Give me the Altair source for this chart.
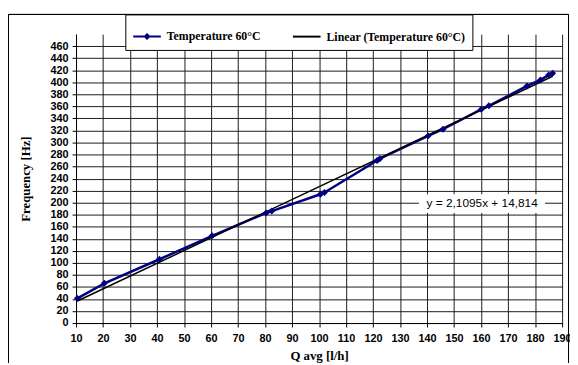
import altair as alt
import pandas as pd

# Data
q_avg = [10.5, 20.5, 40.9, 60.4, 80.4, 82.5, 100.5, 102.0, 121.5, 122.5,
         140.4, 145.9, 160.0, 162.9, 177.0, 182.0, 185.0, 186.5]
freq = [41, 66, 106, 145, 183, 186, 214, 217, 270, 273,
        311, 322, 355, 361, 394, 404, 412, 415]
series_names = ["Temperature 60°C", "Linear (Temperature 60°C)"]
x_ticks = list(range(10, 191, 10))
y_ticks = list(range(0, 461, 20))
equation = "y = 2,1095x + 14,814"

df = pd.DataFrame({"q": q_avg, "f": freq})
legend_df = pd.DataFrame({"series": series_names, "q": [q_avg[0]] * 2, "f": [freq[0]] * 2})
label_df = pd.DataFrame({"q": [160.4], "f": [200], "q0": [137.0], "q1": [183.7],
                         "f0": [183.0], "f1": [214.0], "text": [equation]})

NAVY = "#000080"
W, H = 493, 293

xs = alt.Scale(domain=[10, 190], nice=False, zero=False)
ys = alt.Scale(domain=[0, 480], nice=False)

x_axis = alt.Axis(values=x_ticks, title="Q avg [l/h]", labelFont="Liberation Sans",
                  labelFontWeight="bold", labelFontSize=11, labelColor="black",
                  titleFont="Liberation Serif", titleFontSize=13, titleFontWeight="bold",
                  titleColor="black", tickSize=4, tickColor="black", domainColor="black",
                  labelPadding=6, titlePadding=6, gridColor="#1a1a1a", gridOpacity=1,
                  labelFlush=False, labelOverlap=False)
y_axis = alt.Axis(values=y_ticks, title="Frequency [Hz]", labelFont="Liberation Sans",
                  labelFontWeight="bold", labelFontSize=11, labelColor="black",
                  titleFont="Liberation Serif", titleFontSize=13, titleFontWeight="bold",
                  titleColor="black", tickSize=4, tickColor="black", domainColor="black",
                  labelPadding=4, titlePadding=18, gridColor="#1a1a1a", gridOpacity=1,
                  labelFlush=False, labelOverlap=False)

X = alt.X("q:Q", scale=xs, axis=x_axis)
Y = alt.Y("f:Q", scale=ys, axis=y_axis)

base = alt.Chart(df)

line = base.mark_line(color=NAVY, strokeWidth=2.5).encode(x=X, y=Y)
pts = base.mark_point(shape="diamond", filled=True, color=NAVY, size=50, opacity=1).encode(x=X, y=Y)
trend = base.transform_regression("q", "f").mark_line(color="black", strokeWidth=1.5).encode(x=X, y=Y)

box = alt.Chart(label_df).mark_rect(color="white").encode(
    x=alt.X("q0:Q", scale=xs, axis=x_axis), x2="q1",
    y=alt.Y("f0:Q", scale=ys, axis=y_axis), y2="f1")
txt = alt.Chart(label_df).mark_text(font="Liberation Sans", fontSize=12, color="black").encode(
    x=X, y=Y, text="text:N")

legend_layer = alt.Chart(legend_df).mark_point(opacity=0, strokeWidth=2).encode(
    x=X, y=Y,
    color=alt.Color("series:N", scale=alt.Scale(domain=series_names, range=[NAVY, "black"]),
                    legend=alt.Legend(orient="none", legendX=50, legendY=-20, direction="horizontal",
                                      title=None, strokeColor="black", fillColor="white",
                                      padding=7, columnPadding=28, labelOffset=5,
                                      labelFont="Liberation Serif", labelFontWeight="bold",
                                      labelFontSize=12, labelColor="black", labelLimit=300,
                                      symbolOpacity=1, symbolSize=784, symbolStrokeWidth=2,
                                      cornerRadius=0)),
    shape=alt.Shape("series:N", scale=alt.Scale(domain=series_names, range=[
        "M-1,0H1M0,-0.16L0.16,0L0,0.16L-0.16,0ZM0,-0.08L0.08,0L0,0.08L-0.08,0Z",
        "M-1,0H1"])),
)

frame = alt.Chart(legend_df).mark_rect(fill=None, stroke="black", strokeWidth=1).encode(
    x=alt.value(-68.5), x2=alt.value(W + 6.5), y=alt.value(-20), y2=alt.value(H + 60))

chart = alt.layer(line, frame, trend, pts, box, txt, legend_layer).properties(
    width=W, height=H,
    autosize=alt.AutoSizeParams(type="none"),
    padding={"left": 69, "top": 24, "right": 8, "bottom": 38},
    background="white",
).configure_view(stroke=None)

chart.save("out.html", embed_options={"renderer": "svg", "actions": False})
